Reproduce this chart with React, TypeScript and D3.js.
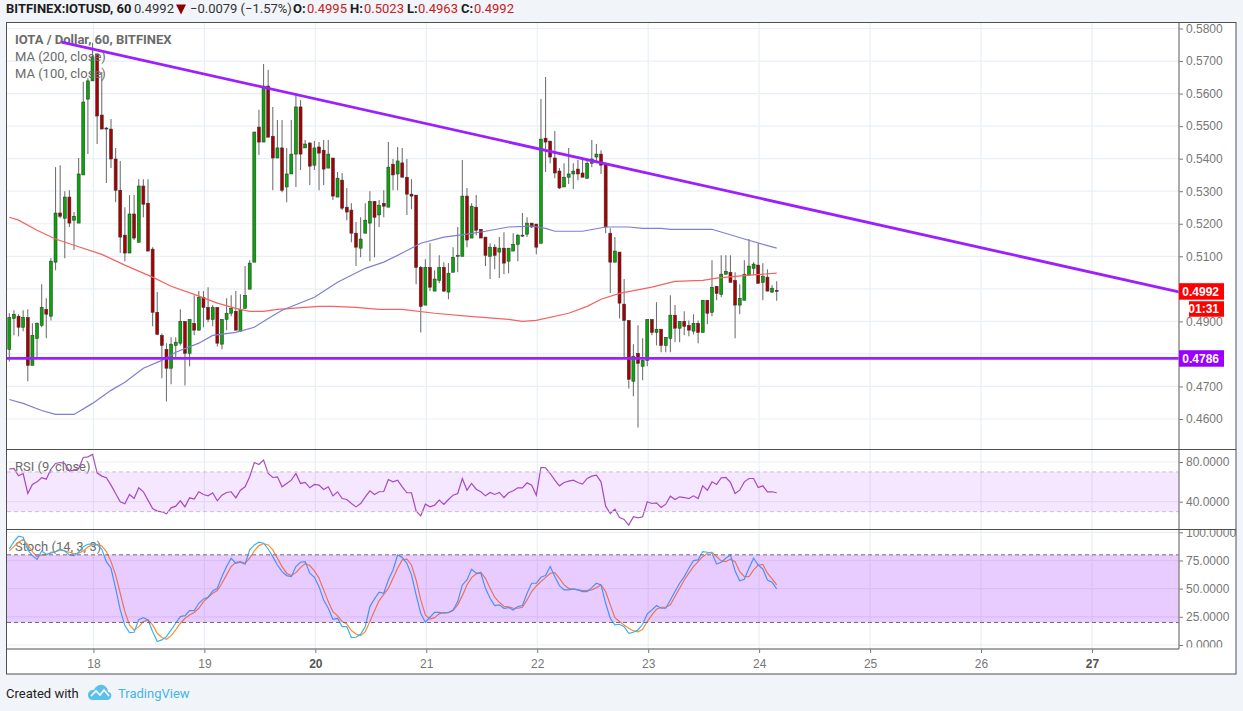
import * as d3 from "d3";
import { useEffect, useRef } from "react";

// hourly candles, index 0 = first bar on the chart
const opens = [
  0.4814, 0.4909, 0.4916, 0.4882, 0.4912, 0.4765, 0.4848, 0.4888, 0.4937, 0.4916,
  0.5082, 0.5233, 0.5217, 0.5282, 0.5211, 0.5202, 0.535, 0.5583, 0.5639, 0.5722,
  0.5534, 0.5494, 0.5491, 0.5399, 0.5303, 0.5165, 0.511, 0.523, 0.5143, 0.5316,
  0.5263, 0.5122, 0.4928, 0.4857, 0.4814, 0.4756, 0.4826, 0.4833, 0.49, 0.4802,
  0.4894, 0.4873, 0.4974, 0.4943, 0.4906, 0.4943, 0.483, 0.4906, 0.4925, 0.4931,
  0.487, 0.494, 0.4999, 0.5082, 0.5497, 0.5451, 0.5623, 0.5469, 0.5402, 0.5433,
  0.5313, 0.5353, 0.5414, 0.5559, 0.5433, 0.5448, 0.538, 0.5436, 0.5426, 0.5371,
  0.5402, 0.5282, 0.5334, 0.5251, 0.5242, 0.5171, 0.5125, 0.5171, 0.5202, 0.5269,
  0.5227, 0.5263, 0.5251, 0.5383, 0.5353, 0.5387, 0.5343, 0.5291, 0.5288, 0.5066,
  0.495, 0.5066, 0.4993, 0.5026, 0.5066, 0.499, 0.5051, 0.51, 0.51, 0.5285,
  0.5156, 0.5251, 0.5183, 0.5159, 0.51, 0.5128, 0.5113, 0.5125, 0.5085, 0.5116,
  0.5137, 0.5162, 0.5168, 0.5202, 0.5199, 0.514, 0.5463, 0.5454, 0.5402, 0.5362,
  0.5313, 0.5343, 0.5353, 0.5368, 0.5356, 0.534, 0.5386, 0.5405, 0.5414, 0.5383,
  0.5171, 0.5082, 0.5113, 0.4953, 0.4903, 0.4716, 0.4802, 0.4762, 0.478, 0.4906,
  0.4866, 0.4876, 0.4826, 0.4848, 0.4919, 0.4879, 0.49, 0.4888, 0.487, 0.4894,
  0.4866, 0.4965, 0.4928, 0.5008, 0.4983, 0.5045, 0.5051, 0.5026, 0.495, 0.4965,
  0.5042, 0.5063, 0.5073, 0.502, 0.5036, 0.499, 0.4995,
];
const highs = [
  0.4925, 0.4934, 0.4922, 0.4934, 0.4937, 0.4894, 0.4897, 0.5014, 0.4971, 0.5094,
  0.5374, 0.538, 0.53, 0.5303, 0.5236, 0.5402, 0.5636, 0.5648, 0.5756, 0.5722,
  0.5666, 0.5497, 0.5522, 0.5433, 0.5393, 0.5251, 0.5288, 0.5288, 0.5337, 0.5337,
  0.5337, 0.5128, 0.499, 0.4863, 0.4833, 0.4851, 0.4851, 0.4937, 0.49, 0.4906,
  0.498, 0.4993, 0.4993, 0.5005, 0.495, 0.4943, 0.4906, 0.4971, 0.498, 0.4993,
  0.4983, 0.507, 0.5088, 0.5482, 0.555, 0.5691, 0.5673, 0.5559, 0.5519, 0.5519,
  0.5433, 0.5519, 0.5602, 0.558, 0.5457, 0.5451, 0.5454, 0.5451, 0.5457, 0.5457,
  0.5402, 0.5359, 0.5356, 0.531, 0.5263, 0.5205, 0.522, 0.5263, 0.53, 0.5269,
  0.5273, 0.5303, 0.5451, 0.5399, 0.5436, 0.5433, 0.5399, 0.5337, 0.5288, 0.507,
  0.5091, 0.514, 0.5057, 0.5103, 0.5082, 0.5079, 0.5128, 0.519, 0.5396, 0.531,
  0.5263, 0.5288, 0.5183, 0.5159, 0.514, 0.5137, 0.5159, 0.5174, 0.5125, 0.5171,
  0.5168, 0.5233, 0.522, 0.5202, 0.5199, 0.5583, 0.5651, 0.5454, 0.5485, 0.5371,
  0.5386, 0.5433, 0.5386, 0.5396, 0.5396, 0.5396, 0.5457, 0.5445, 0.5426, 0.5383,
  0.5186, 0.5159, 0.5113, 0.503, 0.4903, 0.483, 0.4888, 0.4848, 0.4906, 0.4906,
  0.4959, 0.4876, 0.4851, 0.498, 0.495, 0.49, 0.4931, 0.4903, 0.4922, 0.4903,
  0.4965, 0.4965, 0.5088, 0.5008, 0.5103, 0.5103, 0.5103, 0.5051, 0.5014, 0.5088,
  0.5153, 0.5082, 0.514, 0.5079, 0.506, 0.5011, 0.5023,
];
const lows = [
  0.4777, 0.4857, 0.4854, 0.487, 0.4716, 0.4765, 0.479, 0.4882, 0.4848, 0.4903,
  0.5057, 0.5217, 0.5094, 0.519, 0.5119, 0.5202, 0.535, 0.5414, 0.5639, 0.5445,
  0.5491, 0.5325, 0.5371, 0.5266, 0.511, 0.5085, 0.511, 0.515, 0.5143, 0.522,
  0.5116, 0.4885, 0.486, 0.4725, 0.4654, 0.4707, 0.479, 0.4826, 0.4703, 0.4762,
  0.4857, 0.4873, 0.4882, 0.4897, 0.4885, 0.4823, 0.4814, 0.4873, 0.4916, 0.4873,
  0.487, 0.494, 0.4999, 0.5082, 0.5411, 0.5451, 0.5466, 0.5303, 0.5402, 0.5297,
  0.5266, 0.5353, 0.5313, 0.5365, 0.5433, 0.5319, 0.5365, 0.5303, 0.5319, 0.5371,
  0.5273, 0.5282, 0.5242, 0.5211, 0.5143, 0.507, 0.5097, 0.5171, 0.5085, 0.5097,
  0.519, 0.522, 0.5251, 0.5303, 0.5303, 0.5343, 0.5227, 0.5245, 0.5014, 0.4866,
  0.495, 0.4993, 0.4993, 0.5017, 0.499, 0.4968, 0.5051, 0.5051, 0.51, 0.5128,
  0.5156, 0.5165, 0.5156, 0.507, 0.503, 0.506, 0.5033, 0.5045, 0.5048, 0.5116,
  0.5085, 0.5159, 0.5159, 0.5187, 0.5106, 0.514, 0.5359, 0.5386, 0.534, 0.5307,
  0.5313, 0.5322, 0.5307, 0.5334, 0.5343, 0.5337, 0.5374, 0.5386, 0.5353, 0.5171,
  0.4987, 0.5082, 0.4909, 0.4786, 0.4694, 0.467, 0.4574, 0.4719, 0.4762, 0.4857,
  0.4826, 0.4805, 0.4805, 0.4805, 0.4836, 0.4836, 0.4857, 0.4854, 0.486, 0.4833,
  0.4866, 0.4891, 0.4916, 0.4965, 0.4974, 0.5045, 0.502, 0.4848, 0.4922, 0.4965,
  0.5042, 0.5042, 0.5017, 0.4965, 0.4993, 0.4987, 0.4963,
];
const closes = [
  0.4912, 0.4922, 0.4882, 0.4912, 0.4765, 0.4857, 0.4894, 0.4943, 0.4922, 0.5085,
  0.5233, 0.5223, 0.5282, 0.5202, 0.5223, 0.5353, 0.5574, 0.5639, 0.5713, 0.5531,
  0.5491, 0.5491, 0.5399, 0.5303, 0.5159, 0.511, 0.523, 0.5156, 0.5316, 0.526,
  0.5116, 0.4928, 0.486, 0.4826, 0.4756, 0.483, 0.4836, 0.49, 0.4802, 0.4906,
  0.4873, 0.4974, 0.4943, 0.4906, 0.4943, 0.4833, 0.4906, 0.4925, 0.494, 0.4873,
  0.4937, 0.498, 0.5079, 0.5482, 0.5451, 0.5623, 0.5466, 0.5402, 0.5433, 0.5303,
  0.5353, 0.5414, 0.5559, 0.5414, 0.5445, 0.5377, 0.5433, 0.5417, 0.5368, 0.5414,
  0.5285, 0.534, 0.5248, 0.5236, 0.5171, 0.5128, 0.5153, 0.5211, 0.5269, 0.522,
  0.5257, 0.5254, 0.5374, 0.535, 0.5393, 0.5343, 0.5291, 0.5285, 0.5066, 0.4946,
  0.5066, 0.5005, 0.503, 0.5066, 0.4993, 0.5048, 0.5097, 0.5103, 0.5285, 0.515,
  0.5254, 0.518, 0.5156, 0.5103, 0.5128, 0.5103, 0.5125, 0.5079, 0.5125, 0.5137,
  0.5165, 0.5165, 0.5202, 0.519, 0.5128, 0.546, 0.5451, 0.5405, 0.5356, 0.531,
  0.5343, 0.5353, 0.5362, 0.5353, 0.5343, 0.5386, 0.5399, 0.5414, 0.538, 0.519,
  0.5082, 0.5116, 0.4956, 0.4903, 0.4722, 0.4793, 0.4771, 0.478, 0.4906, 0.4866,
  0.4876, 0.4826, 0.4851, 0.4919, 0.4879, 0.49, 0.4885, 0.4873, 0.4894, 0.4866,
  0.4965, 0.4925, 0.5005, 0.4986, 0.5045, 0.5054, 0.502, 0.495, 0.4971, 0.5045,
  0.507, 0.5076, 0.5017, 0.5039, 0.4993, 0.5002, 0.4992,
];

// moving averages, read at the bends
const ma200Index = [0, 2, 6, 10, 14, 20, 25, 31, 35, 40, 45, 49, 52, 55, 58, 67, 70, 75, 80, 85, 92, 99, 108, 111, 114, 121, 125, 128, 132, 139, 144, 150, 153, 160, 166];
const ma200Price = [0.522, 0.5211, 0.518, 0.5153, 0.5134, 0.5106, 0.5073, 0.5036, 0.5008, 0.4983, 0.4956, 0.494, 0.4931, 0.4931, 0.4937, 0.4946, 0.4946, 0.4943, 0.4937, 0.4937, 0.4925, 0.4916, 0.4906, 0.49, 0.4903, 0.4925, 0.4946, 0.4968, 0.4986, 0.5005, 0.5023, 0.5026, 0.5033, 0.5042, 0.5048];
const ma100Index = [0, 3, 7, 10, 14, 18, 22, 25, 29, 33, 36, 41, 44, 49, 53, 56, 59, 66, 71, 77, 81, 85, 89, 94, 99, 103, 108, 113, 116, 118, 124, 129, 134, 137, 141, 143, 152, 159, 166];
const ma100Price = [0.466, 0.4648, 0.4626, 0.4614, 0.4614, 0.4648, 0.4688, 0.4713, 0.4756, 0.478, 0.4805, 0.4833, 0.4857, 0.4866, 0.4882, 0.4909, 0.4934, 0.4974, 0.502, 0.5063, 0.5082, 0.511, 0.514, 0.5159, 0.5168, 0.5177, 0.519, 0.5193, 0.5186, 0.5177, 0.5177, 0.519, 0.519, 0.5186, 0.5186, 0.5183, 0.5183, 0.5153, 0.5125];

const rsi = [
  72.8, 73.5, 66.1, 68.4, 48.3, 57.4, 60, 64.1, 62.7, 72.8,
  78.5, 79.5, 78.5, 70.8, 71.8, 73.5, 84.6, 85.2, 87.6, 69.1,
  65.8, 64.1, 56.7, 48.3, 39.9, 37.9, 47.3, 43.2, 54, 50,
  41.6, 33.2, 30.5, 29.8, 27.8, 33.8, 35.5, 40.9, 34.8, 43.9,
  42.6, 50, 47.3, 45.9, 49, 40.9, 46.6, 49.3, 50, 43.9,
  51.6, 55, 65.1, 79.5, 77.5, 81.9, 68.4, 64.4, 65.1, 55,
  58.4, 61.7, 68.4, 58.4, 59.4, 54, 57.4, 56.7, 52.3, 55,
  45.9, 50, 43.2, 42.2, 38.2, 34.8, 38.2, 44.9, 51, 47.3,
  50, 50.3, 62.4, 60, 61.7,
  55, 49, 49, 30.8, 25.8, 37.5, 34.8, 36.5, 41.6, 37.2,
  42.2, 46.6, 48.3, 63.4, 51.6, 58.4, 52.6, 50, 45.9, 49.3,
  47.3, 49.3, 44.2, 49, 51, 54, 54, 59, 56.7, 46.6,
  74.5, 74.2, 68.4, 61.7, 56, 59.4, 60.7, 61.7, 59.4, 57.7,
  63.4, 65.8, 66.8, 60, 35.5, 28.1, 32.5, 24.1, 22.1, 16.4,
  24.8, 23.8, 24.8, 39.9, 38.2, 38.9, 34.2, 37.5, 45.6, 42.2,
  44.9, 44.2, 43.2, 45.9, 43.2, 56, 51.6, 60, 57.4, 64.1,
  64.4, 59.4, 48.3, 51.6, 60, 63.4, 63.4, 54.3, 56, 50,
  50, 49,
];
const stochK = [
  85.2, 91.7, 96.5, 95.6, 84.3, 79.3, 76, 83.4, 80.5, 81.4,
  82.8, 85.2, 83.4, 79.9, 79.3, 82.3, 87.3, 89.4, 89.6, 88.8,
  85.2, 74, 68.1, 50.3, 31.1, 17.2, 11, 11.3, 22.5, 24.3,
  22.2, 11.9, 3, 4.5, 7.4, 13.4, 19.3, 25.2, 26.1, 30.5,
  30.5, 37, 40.9, 42.4, 48, 50.3, 60.7, 69.6, 77, 72.5,
  73.4, 71.6, 84.4, 88.8, 91.2, 90.3, 85.2, 78.4, 71, 65.1,
  61.6, 60.7, 69.6, 73.4, 74, 63.7, 60.1, 51.8, 40, 32.6,
  22.8, 23.7, 16.3, 16.3, 6.6, 6.9, 9.5, 16.3, 34.1, 40.9,
  46.8, 45.9, 57.7, 66.6, 79.9,
  77.6, 72.5, 62.2, 44.4, 28.2, 20.2, 24.6, 29, 29, 28.2,
  28.8, 31.1, 38.5, 53.3, 57.7, 67.2, 63.7, 63.7, 50.3, 41.5,
  35, 35.6, 32.6, 33.2, 31.1, 34.1, 35, 45.9, 54.8, 54.8,
  60.1, 61.6, 69.6, 60.7, 52.7, 48.9, 48.9, 49.8, 48.9, 47.4,
  47.4, 50.9, 54.8, 53.3, 37, 23.7, 17.8, 18.4, 16.3, 10.4,
  11.3, 13.4, 18.4, 27.6, 31.1, 35, 32.6, 32.6, 40, 47.4,
  54.8, 60.7, 68.1, 74.9, 75.5, 82.9, 82.3, 81.4, 71.9, 73.4,
  77, 79.9, 65.7, 56.9, 58.3, 68.1, 77, 71, 67.5, 57.7,
  55.7, 49.8,
];
const stochD = [
  83.5, 87.3, 91.2, 93.8, 88.8, 82.9, 78.4, 79.9, 79.9, 82.3,
  82.9, 84.1, 83.5, 82.3, 80.8, 81.4, 83.5, 87, 88.8, 89.4,
  87.9, 82.9, 74, 62.2, 45.9, 29.6, 17.8, 13.1, 16.3, 20.8,
  22.2, 17.8, 10.4, 6.6, 5.1, 8.3, 13.4, 19.3, 23.7, 26.7,
  28.8, 32.6, 38.5, 42.1, 45.9, 48.3, 54.8, 62.2, 69.6, 73.4,
  74, 72.5, 77, 83.5, 88.2, 90, 88.8, 84.4, 77, 69.6,
  63.7, 61.6, 64.2, 68.7, 72.2, 70.5, 65.7, 59.2, 48.9, 38.5,
  29.6, 26.1, 20.8, 18.7, 12.8, 9.8, 8.3, 11.9, 20.8, 30.5,
  39.4, 45, 50.3, 59.2, 68.1,
  75.5, 76.1, 71, 57.7, 40, 26.7, 23.1, 24.3, 27.6, 28.8,
  28.8, 30.5, 35.6, 43.8, 53.3, 59.8, 63.1, 64.5, 59.2, 50.3,
  42.4, 37.9, 34.4, 33.8, 32.6, 32.6, 33.5, 40, 47.4, 52.4,
  56.3, 59.8, 63.7, 64.2, 59.2, 53.3, 50.3, 49.5, 48.9, 48.3,
  48.3, 48.9, 50.9, 53.3, 47.4, 35.6, 24.3, 20.8, 17.8, 14.8,
  12.5, 11.6, 14, 20.8, 26.7, 31.7, 33.5, 33.5, 35.6, 43,
  50.3, 57.7, 63.7, 69.6, 74, 78.4, 81.4, 82.3, 78.4, 74.6,
  74, 76.1, 74, 65.1, 60.7, 60.7, 66.6, 71, 71.6, 63.7,
  58.6, 53.3,
];

// drawn trend line and horizontal support
const trendIndex = [11.3, 253.2];
const trendPrice = [0.5758, 0.499];
const supportPrice = 0.4786;

const priceTicks = [0.46, 0.47, 0.48, 0.49, 0.5, 0.51, 0.52, 0.53, 0.54, 0.55, 0.56, 0.57, 0.58];
const hiddenPriceLabels = [0.48, 0.5]; // the tags cover these two
const rsiTicks = [40, 80];
const stochTicks = [0, 25, 50, 75, 100];
const dayTicks = [18.2, 42.2, 66.2, 90.2, 114.2, 138.2, 162.2, 186.2, 210.2, 234.2];
const dayLabels = ["18", "19", "20", "21", "22", "23", "24", "25", "26", "27"];
const boldDays = ["20", "27"];

const W = 1243;
const H = 711;
const plot = { left: 7, right: 1179, outer: 1236, top: 23, rsiTop: 449.5, stochTop: 529.5, bottom: 649, end: 674 };
const sans = "Roboto, 'Open Sans', sans-serif";
const arial = "'Liberation Sans', Arial, sans-serif";

export default function App() {
  const ref = useRef<SVGSVGElement | null>(null);

  useEffect(() => {
    if (!ref.current) return;
    const svg = d3.select(ref.current);
    svg.selectAll("*").remove();

    const x = d3.scaleLinear().domain([0, 166]).range([9.3, 776.7]);
    const y = d3.scaleLinear().domain([0.46, 0.58]).range([419, 28.5]);
    const yRsi = d3.scaleLinear().domain([40, 80]).range([501.7, 462]);
    const yStoch = d3.scaleLinear().domain([0, 100]).range([645, 532.3]);
    const fourPlaces = d3.format(".4f");

    svg.append("rect").attr("width", W).attr("height", H).attr("fill", "#f1f4f8");
    svg.append("rect")
      .attr("x", plot.left).attr("y", plot.top)
      .attr("width", plot.outer - plot.left).attr("height", plot.end - plot.top)
      .attr("fill", "#fff");

    const defs = svg.append("defs");
    defs.append("clipPath").attr("id", "stoch-clip").append("rect")
      .attr("x", plot.left).attr("y", plot.stochTop + 0.5)
      .attr("width", plot.outer - plot.left).attr("height", 117.5);

    // grid
    const grid = svg.append("g").attr("stroke", "#e9f0f5").attr("stroke-width", 1.2).attr("fill", "none");
    grid.selectAll("line.v").data(dayTicks).join("line").attr("class", "v")
      .attr("x1", (d) => x(d)).attr("x2", (d) => x(d))
      .attr("y1", plot.top).attr("y2", plot.bottom);
    const hLines = [...priceTicks.map((d) => y(d)), ...rsiTicks.map((d) => yRsi(d)), ...stochTicks.map((d) => yStoch(d))];
    grid.selectAll("line.h").data(hLines).join("line").attr("class", "h")
      .attr("x1", plot.left).attr("x2", plot.right)
      .attr("y1", (d) => d).attr("y2", (d) => d);

    // candles
    const bars = opens.map((o, i) => ({ i, o, h: highs[i], l: lows[i], c: closes[i] }));
    svg.append("g").selectAll("line").data(bars).join("line")
      .attr("x1", (d) => x(d.i)).attr("x2", (d) => x(d.i))
      .attr("y1", (d) => y(d.h)).attr("y2", (d) => y(d.l))
      .attr("stroke", "#737373").attr("stroke-width", 1.1);
    svg.append("g").selectAll("rect").data(bars).join("rect")
      .attr("x", (d) => x(d.i) - 1.5).attr("width", 3)
      .attr("y", (d) => y(Math.max(d.o, d.c)))
      .attr("height", (d) => Math.max(0.6, Math.abs(y(d.o) - y(d.c))))
      .attr("fill", (d) => (d.c >= d.o ? "#05a805" : "#a80000"))
      .attr("stroke", "#333").attr("stroke-width", 0.55);

    // moving averages
    const pointLine = d3.line<[number, number]>().x((d) => x(d[0])).y((d) => y(d[1]));
    svg.append("path")
      .attr("d", pointLine(ma200Index.map((d, i) => [d, ma200Price[i]] as [number, number])))
      .attr("fill", "none").attr("stroke", "#f96060").attr("stroke-width", 1.2);
    svg.append("path")
      .attr("d", pointLine(ma100Index.map((d, i) => [d, ma100Price[i]] as [number, number])))
      .attr("fill", "none").attr("stroke", "#7e7fd0").attr("stroke-width", 1.2);

    // chart titles sit under the drawn lines
    const legend = svg.append("g").attr("font-family", sans).attr("font-size", 13).attr("fill", "#6b6b6b");
    legend.append("text").attr("x", 15).attr("y", 44).attr("font-weight", 700).text("IOTA / Dollar, 60, BITFINEX");
    legend.append("text").attr("x", 15).attr("y", 61).text("MA (200, close)");
    legend.append("text").attr("x", 15).attr("y", 78).text("MA (100, close)");
    legend.append("text").attr("x", 15).attr("y", 471).text("RSI (9, close)");
    legend.append("text").attr("x", 15).attr("y", 551).text("Stoch (14, 3, 3)");

    // trend line and support
    svg.append("path")
      .attr("d", pointLine(trendIndex.map((d, i) => [d, trendPrice[i]] as [number, number])))
      .attr("fill", "none").attr("stroke", "#9b1fff").attr("stroke-width", 2.8);
    svg.append("line")
      .attr("x1", plot.left).attr("x2", plot.right)
      .attr("y1", y(supportPrice)).attr("y2", y(supportPrice))
      .attr("stroke", "#9b1fff").attr("stroke-width", 2.8);

    // rsi panel
    const seriesLine = (scale: d3.ScaleLinear<number, number>) =>
      d3.line<number>().x((_, i) => x(i)).y((d) => scale(d));
    svg.append("path").attr("d", seriesLine(yRsi)(rsi))
      .attr("fill", "none").attr("stroke", "#a94fc0").attr("stroke-width", 1.2);
    svg.append("rect")
      .attr("x", plot.left).attr("width", plot.right - plot.left)
      .attr("y", yRsi(70)).attr("height", yRsi(30) - yRsi(70))
      .attr("fill", "#9915ff").attr("fill-opacity", 0.1);

    // stoch panel, band goes over the lines
    svg.append("path").attr("d", seriesLine(yStoch)(stochD))
      .attr("fill", "none").attr("stroke", "#ff8c2a").attr("stroke-width", 1.2);
    svg.append("path").attr("d", seriesLine(yStoch)(stochK))
      .attr("fill", "none").attr("stroke", "#37b3f5").attr("stroke-width", 1.2);
    svg.append("rect")
      .attr("x", plot.left).attr("width", plot.right - plot.left)
      .attr("y", yStoch(80)).attr("height", yStoch(20) - yStoch(80))
      .attr("fill", "#9915ff").attr("fill-opacity", 0.22);

    // dashed band edges
    const dashes = [
      { v: yRsi(70), c: "#c9bfcf" }, { v: yRsi(30), c: "#c9bfcf" },
      { v: yStoch(80), c: "#75667f" }, { v: yStoch(20), c: "#75667f" },
    ];
    svg.append("g").selectAll("line").data(dashes).join("line")
      .attr("x1", plot.left).attr("x2", plot.right)
      .attr("y1", (d) => d.v).attr("y2", (d) => d.v)
      .attr("stroke", (d) => d.c).attr("stroke-dasharray", "4 3");

    // axes
    const styleAxis = (g: d3.Selection<SVGGElement, unknown, null, undefined>) => {
      g.select(".domain").remove();
      g.selectAll("line").attr("stroke", "#777");
      g.selectAll("text").attr("fill", "#777").attr("font-family", arial).attr("font-size", 12);
    };
    const priceAxis = svg.append("g").attr("transform", `translate(${plot.right},0)`)
      .call(d3.axisRight(y).tickValues(priceTicks)
        .tickFormat((d) => (hiddenPriceLabels.includes(d as number) ? "" : fourPlaces(d as number)))
        .tickSize(4).tickPadding(3));
    styleAxis(priceAxis as any);
    const rsiAxis = svg.append("g").attr("transform", `translate(${plot.right},0)`)
      .call(d3.axisRight(yRsi).tickValues(rsiTicks).tickFormat(fourPlaces as any).tickSize(4).tickPadding(3));
    styleAxis(rsiAxis as any);
    const stochAxis = svg.append("g").attr("clip-path", "url(#stoch-clip)")
      .append("g").attr("transform", `translate(${plot.right},0)`)
      .call(d3.axisRight(yStoch).tickValues(stochTicks).tickFormat(fourPlaces as any).tickSize(4).tickPadding(3));
    styleAxis(stochAxis as any);
    const timeAxis = svg.append("g").attr("transform", `translate(0,${plot.bottom})`)
      .call(d3.axisBottom(x).tickValues(dayTicks).tickFormat((_, i) => dayLabels[i]).tickSize(4).tickPadding(6));
    styleAxis(timeAxis as any);
    timeAxis.selectAll("text")
      .attr("font-weight", (_, i) => (boldDays.includes(dayLabels[i]) ? 700 : 400))
      .attr("fill", (_, i) => (boldDays.includes(dayLabels[i]) ? "#555" : "#777"));

    // panel borders
    const borders = svg.append("g").attr("fill", "none");
    borders.append("line").attr("x1", plot.right).attr("x2", plot.right).attr("y1", plot.top).attr("y2", plot.bottom)
      .attr("stroke", "#888").attr("stroke-width", 1.4);
    borders.append("line").attr("x1", plot.left).attr("x2", plot.right).attr("y1", plot.bottom).attr("y2", plot.bottom)
      .attr("stroke", "#888").attr("stroke-width", 1.4);
    [plot.rsiTop, plot.stochTop].forEach((v) => {
      borders.append("line").attr("x1", plot.left).attr("x2", plot.outer).attr("y1", v).attr("y2", v)
        .attr("stroke", "#505050");
    });
    borders.append("rect")
      .attr("x", plot.left - 0.5).attr("y", plot.top - 0.5)
      .attr("width", plot.outer - plot.left + 0.5).attr("height", plot.end - plot.top + 0.5)
      .attr("stroke", "#505050");

    // price tags
    const tags = [
      { x: plot.right, w: 45, y: y(0.4992), h: 16.5, c: "#ff0000", t: "0.4992" },
      { x: 1189, w: 35, y: 309, h: 15.5, c: "#ff0000", t: "01:31" },
      { x: plot.right, w: 45, y: y(supportPrice), h: 16.5, c: "#9b00ff", t: "0.4786" },
    ];
    const tagG = svg.append("g").selectAll("g").data(tags).join("g");
    tagG.append("rect")
      .attr("x", (d) => d.x).attr("y", (d) => d.y - d.h / 2)
      .attr("width", (d) => d.w).attr("height", (d) => d.h)
      .attr("fill", (d) => d.c);
    tagG.append("text")
      .attr("x", (d) => d.x + d.w - 5).attr("y", (d) => d.y + 4.2)
      .attr("text-anchor", "end")
      .attr("font-family", arial).attr("font-size", 12).attr("font-weight", 700)
      .attr("fill", "#fff")
      .text((d) => d.t);

    // header
    const head = svg.append("g").attr("font-family", sans).attr("font-size", 13).attr("fill", "#333");
    head.append("text").attr("x", 6).attr("y", 13).attr("font-weight", 700).attr("fill", "#1c1c1c").text("BITFINEX:IOTUSD, 60");
    head.append("text").attr("x", 134).attr("y", 13).text("0.4992");
    head.append("path").attr("d", "M176,4.5h10l-5,10z").attr("fill", "#8b0000");
    head.append("text").attr("x", 190).attr("y", 13).text("\u22120.0079 (\u22121.57%)");
    const ohlc = [
      { k: "O:", v: "0.4995", kx: 293, vx: 307 },
      { k: "H:", v: "0.5023", kx: 350, vx: 364 },
      { k: "L:", v: "0.4963", kx: 407, vx: 418 },
      { k: "C:", v: "0.4992", kx: 461, vx: 474 },
    ];
    ohlc.forEach((d) => {
      head.append("text").attr("x", d.kx).attr("y", 13).attr("font-weight", 700).attr("fill", "#1c1c1c").text(d.k);
      head.append("text").attr("x", d.vx).attr("y", 13).attr("fill", "#c62020").text(d.v);
    });

    // footer
    svg.append("text").attr("x", 6).attr("y", 698).attr("font-family", sans).attr("font-size", 13).attr("fill", "#222").text("Created with");
    const logo = svg.append("g").attr("transform", "translate(88,684)");
    logo.append("path")
      .attr("d", "M0,11C0,7 3,5.5 6,6C8,1 14,-1 18,3C20,5 20,7 20,8C23,8 24,11 23,13C22,16 20,16 18,16H5C2,16 0,14 0,11Z")
      .attr("fill", "#5cc0ea");
    logo.append("path")
      .attr("d", "M3,12L8,7L12,11L16,6L21,12")
      .attr("fill", "none").attr("stroke", "#fff").attr("stroke-width", 1.6);
    svg.append("text").attr("x", 118).attr("y", 698).attr("font-family", sans).attr("font-size", 13).attr("fill", "#45b4e6").text("TradingView");
  }, []);

  return (
    <svg
      ref={ref}
      width={W}
      height={H}
      style={{ position: "absolute", left: 0, top: 0, display: "block" }}
    />
  );
}
